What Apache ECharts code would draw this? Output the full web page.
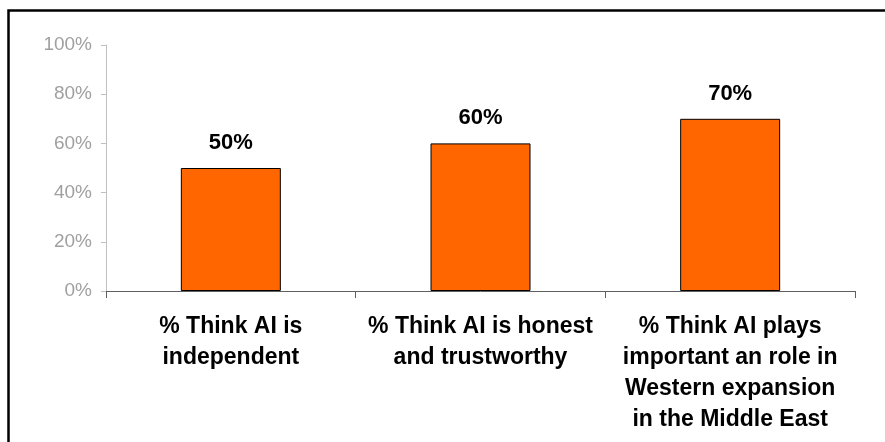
<!DOCTYPE html>
<html>
<head>
<meta charset="utf-8">
<script src="https://cdn.jsdelivr.net/npm/echarts@6/dist/echarts.min.js"></script>
<style>html,body{margin:0;padding:0;background:#fff}#c{width:885px;height:442px}</style>
</head>
<body>
<div id="c"></div>
<script>
const categories = [
  '% Think AI is\nindependent',
  '% Think AI is honest\nand trustworthy',
  '% Think AI plays\nimportant an role in\nWestern expansion\nin the Middle East'
];
const values = [50, 60, 70];
const yTicks = [0, 20, 40, 60, 80, 100];

const chart = echarts.init(document.getElementById('c'), null, {renderer: 'canvas'});
chart.setOption({
  animation: false,
  backgroundColor: '#fff',
  grid: {left: 106, right: 30, top: 45, bottom: 151, containLabel: false},
  graphic: [{
    type: 'rect', position: [0, 0], z: 100,
    shape: {x: 8.5, y: 10.5, width: 1000, height: 1000},
    style: {fill: 'none', stroke: '#000', lineWidth: 2.5}
  }],
  xAxis: {
    type: 'category', data: categories,
    axisLine: {lineStyle: {color: '#606060', width: 1}},
    axisTick: {show: true, length: 7, alignWithLabel: false, lineStyle: {color: '#606060'}},
    axisLabel: {
      interval: 0, margin: 20, color: '#000',
      fontFamily: 'Liberation Sans, Arial, sans-serif', fontWeight: 'bold',
      fontSize: 23, lineHeight: 31, align: 'center'
    }
  },
  yAxis: {
    type: 'value', min: yTicks[0], max: yTicks[yTicks.length - 1], interval: 20,
    axisLine: {show: true, lineStyle: {color: '#c0c0c0'}},
    axisTick: {show: true, length: 5, lineStyle: {color: '#c0c0c0'}},
    splitLine: {show: false},
    axisLabel: {
      formatter: v => v + '%', color: '#a0a0a0', margin: 14,
      fontFamily: 'Liberation Sans, Arial, sans-serif', fontSize: 19
    }
  },
  series: [{
    type: 'bar', data: values, barWidth: 100,
    itemStyle: {color: '#FF6600', borderColor: '#000', borderWidth: 1},
    label: {
      show: true, position: 'top', distance: 14, formatter: p => p.value + '%',
      color: '#000', fontFamily: 'Liberation Sans, Arial, sans-serif',
      fontWeight: 'bold', fontSize: 22
    }
  }]
});
</script>
</body>
</html>
